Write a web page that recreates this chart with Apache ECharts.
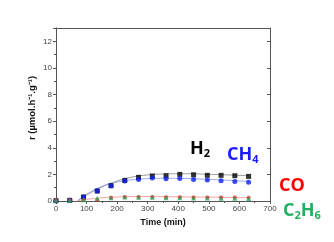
<!DOCTYPE html>
<html><head><meta charset="utf-8">
<script src="https://cdn.jsdelivr.net/npm/echarts@6/dist/echarts.min.js"></script>
<style>html,body{margin:0;padding:0;background:#fff}#c{width:334px;height:242px}</style>
</head><body><div id="c"></div>
<script>
var times = [0,45,90,135,180,225,270,315,360,405,450,495,540,585,630];
var h2  = [0.02,0.05,0.3,0.75,1.15,1.55,1.78,1.88,1.9,2.0,1.97,1.93,1.93,1.9,1.85];
var ch4 = [0.02,0.05,0.3,0.75,1.15,1.5,1.62,1.72,1.68,1.7,1.62,1.58,1.52,1.47,1.4];
var co  = [0.05,0.05,0.05,0.08,0.25,0.3,0.3,0.3,0.28,0.28,0.27,0.27,0.26,0.26,0.25];
var c2h6= [0.05,0.05,0.1,0.2,0.25,0.3,0.28,0.28,0.25,0.25,0.22,0.22,0.2,0.2,0.18];
var fitT  = [70,100,150,200,250,300,350,400,450,500,550,630];
var h2Fit = [0,0.45,1.05,1.5,1.8,1.96,2.03,2.05,2.04,2.0,1.97,1.9];
var ch4Fit= [0,0.5,1.1,1.42,1.6,1.68,1.71,1.7,1.67,1.62,1.57,1.47];
var coFit = [0,0.12,0.24,0.3,0.33,0.34,0.33,0.32,0.3,0.29,0.27,0.25];
var yTicks = [0,2,4,6,8,10,12];
var xTicks = [0,100,200,300,400,500,600,700];

function pairs(xs, ys){ return xs.map(function(x,i){return [x, ys[i]];}); }
var chart = echarts.init(document.getElementById('c'));
var axisCol = '#555';
function lbl(){ return {color:'#444', fontSize:8, fontFamily:'Liberation Sans', margin:4}; }
chart.setOption({
  animation:false,
  grid:{left:56, right:64, top:28, bottom:41},
  xAxis:[{type:'value', min:0, max:700, interval:100,
    name:'Time (min)', nameLocation:'middle', nameGap:17,
    nameTextStyle:{fontSize:9, fontWeight:'bold', color:'#111', fontFamily:'Liberation Sans'},
    axisLine:{show:true, onZero:false, lineStyle:{color:axisCol}}, axisTick:{show:true, length:3, lineStyle:{color:axisCol}},
    minorTick:{show:true, splitNumber:2, length:2, lineStyle:{color:axisCol}},
    axisLabel:lbl(), splitLine:{show:false}},
    {type:'value', position:'top', min:0, max:700, interval:100, axisLine:{show:true, onZero:false, lineStyle:{color:axisCol}},
    axisTick:{show:false}, axisLabel:{show:false}, splitLine:{show:false}}],
  yAxis:[{type:'value', min:0, max:13, interval:2,
    axisLine:{show:true, onZero:false, lineStyle:{color:axisCol}}, axisTick:{show:true, length:3, lineStyle:{color:axisCol}},
    minorTick:{show:true, splitNumber:2, length:2, lineStyle:{color:axisCol}},
    axisLabel:Object.assign(lbl(), {formatter:function(v){return yTicks.indexOf(v)>=0? v : '';}}), splitLine:{show:false}},
    {type:'value', position:'right', min:0, max:13, interval:2, axisLine:{show:true, onZero:false, lineStyle:{color:axisCol}},
    axisTick:{show:true, inside:true, length:3, lineStyle:{color:axisCol}}, axisLabel:{show:false}, splitLine:{show:false}}],
  series:[
    {type:'line', data:pairs(fitT,h2Fit), smooth:true, symbol:'none', lineStyle:{color:'#999', width:1}, z:1},
    {type:'line', data:pairs(fitT,ch4Fit), smooth:true, symbol:'none', lineStyle:{color:'#99a6ee', width:1}, z:1},
    {type:'line', data:pairs(fitT,coFit), smooth:true, symbol:'none', lineStyle:{color:'#f2a0a0', width:1}, z:1},
    {type:'scatter', data:pairs(times,h2), symbol:'rect', symbolSize:5, itemStyle:{color:'#000'}, z:3},
    {type:'scatter', data:pairs(times,ch4), symbol:'circle', symbolSize:5, itemStyle:{color:'#0a1ef0'}, z:4},
    {type:'scatter', data:pairs(times,co), symbol:'circle', symbolSize:4, itemStyle:{color:'#ee1c1c'}, z:4},
    {type:'scatter', data:pairs(times,c2h6), symbol:'triangle', symbolSize:5, itemStyle:{color:'#2aa860'}, z:5}
  ],
  graphic:[
    {type:'text', x:32, y:108, rotation:Math.PI/2, style:{text:'r (µmol.h⁻¹.g⁻¹)', fontSize:9.5, fontWeight:'bold', fill:'#111', fontFamily:'Liberation Sans', align:'center', verticalAlign:'middle'}},
    {type:'text', left:190, top:140, style:{text:'{m|H}{s|2}', rich:{m:{fontSize:18, fontWeight:'bold', fill:'#000', fontFamily:'Open Sans'}, s:{fontSize:11, fontWeight:'bold', fill:'#000', fontFamily:'Open Sans', padding:[10,0,0,0]}}}},
    {type:'text', left:227, top:146, style:{text:'{m|CH}{s|4}', rich:{m:{fontSize:18, fontWeight:'bold', fill:'#1a1aff', fontFamily:'Open Sans'}, s:{fontSize:11, fontWeight:'bold', fill:'#1a1aff', fontFamily:'Open Sans', padding:[10,0,0,0]}}}},
    {type:'text', left:279, top:177, style:{text:'CO', fontSize:18, fontWeight:'bold', fill:'#ff0000', fontFamily:'Open Sans'}},
    {type:'text', left:283, top:202, style:{text:'{m|C}{s|2}{m|H}{s|6}', rich:{m:{fontSize:18, fontWeight:'bold', fill:'#22b060', fontFamily:'Open Sans'}, s:{fontSize:11, fontWeight:'bold', fill:'#22b060', fontFamily:'Open Sans', padding:[10,0,0,0]}}}}
  ]
});
</script></body></html>
